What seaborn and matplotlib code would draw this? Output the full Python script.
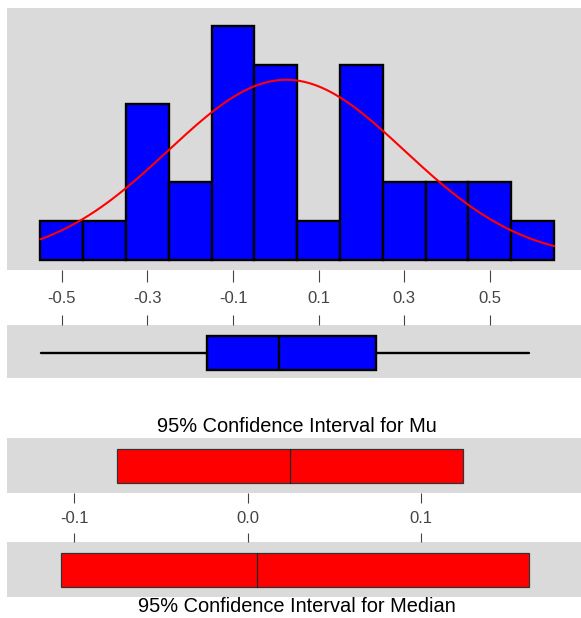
import numpy as np
import pandas as pd
import matplotlib
matplotlib.use("Agg")
import matplotlib.pyplot as plt
import seaborn as sns

# ---------------- data ----------------
bin_start = -0.55
bin_width = 0.1
hist_counts = [1, 1, 4, 2, 6, 5, 1, 5, 2, 2, 2, 1]

mean_hat = 0.0246
sd_hat = 0.2763

box_whislo = -0.548
box_q1 = -0.160
box_median = 0.0065
box_q3 = 0.234
box_whishi = 0.591

ci_mu = [-0.0755, 0.0246, 0.1244]       # low, centre, high
ci_median = [-0.1078, 0.0055, 0.1622]   # low, centre, high

hist_ticks = [-0.5, -0.3, -0.1, 0.1, 0.3, 0.5]
hist_ticklabels = ["-0.5", "-0.3", "-0.1", "0.1", "0.3", "0.5"]
ci_ticks = [-0.1, 0.0, 0.1]
ci_ticklabels = ["-0.1", "0.0", "0.1"]

title_mu = "95% Confidence Interval for Mu"
title_median = "95% Confidence Interval for Median"

# ---------------- style ----------------
sns.set_style("white")
plt.rcParams['font.family'] = ['Liberation Sans', 'DejaVu Sans']
BG = "#dadada"
TICKC = "#444444"

W, H = 581, 618
fig = plt.figure(figsize=(W / 100, H / 100), dpi=100)
fig.patch.set_facecolor("white")


def axes_px(x0, y0, x1, y1):
    return fig.add_axes([x0 / W, 1 - y1 / H, (x1 - x0) / W, (y1 - y0) / H])


hist_xlim = (-0.628, 0.713)
ci_xlim = (-0.1389, 0.1923)

# ---------------- histogram ----------------
ax_h = axes_px(7, 8, 581, 270)
ax_h.set_facecolor(BG)
n = len(hist_counts)
edges = [bin_start + i * bin_width for i in range(n + 1)]
mids = [bin_start + (i + 0.5) * bin_width for i in range(n)]
df_h = pd.DataFrame({"x": mids, "w": hist_counts})
sns.histplot(data=df_h, x="x", weights="w", bins=edges, color="#0000ff",
             edgecolor="black", linewidth=1.7, alpha=1, ax=ax_h)
xs = np.linspace(edges[0], edges[-1], 300)
ys = sum(hist_counts) * bin_width / (sd_hat * np.sqrt(2 * np.pi)) * \
    np.exp(-0.5 * ((xs - mean_hat) / sd_hat) ** 2)
sns.lineplot(x=xs, y=ys, color="red", linewidth=1.5, ax=ax_h)
ax_h.set_xlim(*hist_xlim)
ax_h.set_ylim(-0.256, 6.46)
ax_h.set_yticks([])
ax_h.set_xticks(hist_ticks)
ax_h.set_xticklabels(hist_ticklabels)
ax_h.tick_params(axis="x", bottom=True, direction="out", length=8.5, width=0.8,
                 color=TICKC, labelcolor=TICKC, labelsize=12, pad=6.5)
ax_h.set_xlabel("")
ax_h.set_ylabel("")
for s in ax_h.spines.values():
    s.set_visible(False)

# ---------------- boxplot ----------------
ax_b = axes_px(7, 325, 581, 378)
ax_b.set_facecolor(BG)
stats = [{"whislo": box_whislo, "q1": box_q1, "med": box_median,
          "q3": box_q3, "whishi": box_whishi, "fliers": []}]
ax_b.bxp(stats, positions=[0.472], widths=0.64, vert=False, patch_artist=True,
         showcaps=False, showfliers=False, manage_ticks=False,
         boxprops=dict(facecolor="#0000ff", edgecolor="black", linewidth=1.7),
         whiskerprops=dict(color="black", linewidth=1.7),
         medianprops=dict(color="black", linewidth=1.7))
ax_b.set_xlim(*hist_xlim)
ax_b.set_ylim(0, 1)
ax_b.set_yticks([])
ax_b.set_xticks(hist_ticks)
ax_b.tick_params(axis="x", bottom=False, top=True, labelbottom=False, labeltop=False,
                 direction="out", length=7.5, width=0.8, color=TICKC)
for s in ax_b.spines.values():
    s.set_visible(False)

# ---------------- CI panels ----------------
def ci_panel(y0, y1, ci, bottom_ticks):
    ax = axes_px(7, y0, 581, y1)
    ax.set_facecolor(BG)
    lo, c, hi = ci
    ax.barh(y=0.491, width=hi - lo, left=lo, height=0.618, color="#ff0000",
            edgecolor="#333333", linewidth=0.9)
    ax.plot([c, c], [0.491 - 0.309, 0.491 + 0.309], color="#222222", linewidth=0.9)
    ax.set_xlim(*ci_xlim)
    ax.set_ylim(0, 1)
    ax.set_yticks([])
    ax.set_xticks(ci_ticks)
    if bottom_ticks:
        ax.set_xticklabels(ci_ticklabels)
        ax.tick_params(axis="x", bottom=True, top=False, direction="out", length=7.2,
                       width=0.8, color=TICKC, labelcolor=TICKC, labelsize=12, pad=5.5)
    else:
        ax.tick_params(axis="x", bottom=False, top=True, labelbottom=False,
                       labeltop=False, direction="out", length=6.5, width=0.8,
                       color=TICKC)
    for s in ax.spines.values():
        s.set_visible(False)
    return ax


ci_panel(438, 493, ci_mu, True)
ci_panel(542, 597, ci_median, False)

fig.text(297 / W, 1 - 427 / H, title_mu, ha="center", va="center", fontsize=14.4,
         color="black")
fig.text(297 / W, 1 - 606 / H, title_median, ha="center", va="center", fontsize=14.4,
         color="black")

fig.savefig("out.png", dpi=100, facecolor="white")
